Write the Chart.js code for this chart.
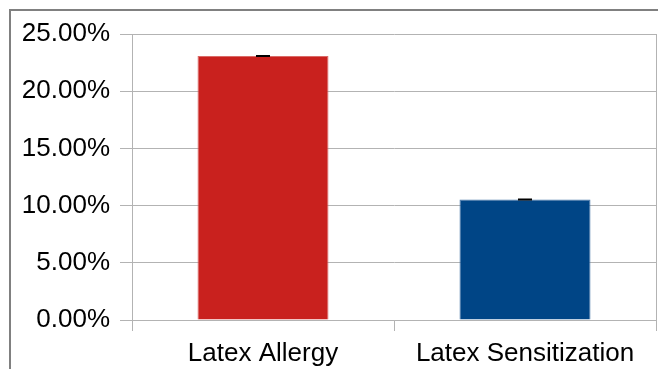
<!DOCTYPE html>
<html>
<head>
<meta charset="utf-8">
<script src="https://cdn.jsdelivr.net/npm/chart.js@4.4.0/dist/chart.umd.min.js"></script>
<style>
  html, body { margin: 0; padding: 0; background: #fff; overflow: hidden; }
  #wrap { position: relative; width: 658px; height: 369px; }
  #frame { position: absolute; left: 9px; top: 9px; width: 720px; height: 420px; border-top: 2px solid #808080; border-left: 2px solid #808080; pointer-events: none; }
  canvas { position: absolute; left: 0; top: 0; }
</style>
</head>
<body>
<div id="wrap">
  <canvas id="c" width="658" height="369"></canvas>
  <div id="frame"></div>
</div>
<script>
const categories = ["Latex Allergy", "Latex Sensitization"];
const values = [23.08, 10.53];
const errors = [0.02, 0.02];
const barColors = ["#C9211E", "#004586"];
const barEdges = ["#DA6A67", "#4A77A8"];
const yTicks = [0, 5, 10, 15, 20, 25];

const errorBarPlugin = {
  id: 'errorBars',
  afterDatasetsDraw(chart) {
    const ctx = chart.ctx;
    const xs = chart.scales.x, ys = chart.scales.y;
    ctx.save();
    ctx.strokeStyle = '#000';
    ctx.lineWidth = 1.5;
    values.forEach((v, i) => {
      const x = xs.getPixelForValue(i);
      const yHi = ys.getPixelForValue(v + errors[i]);
      const yLo = ys.getPixelForValue(v - errors[i]);
      ctx.beginPath();
      ctx.moveTo(x - 7, yHi); ctx.lineTo(x + 7, yHi);
      ctx.moveTo(x, yHi); ctx.lineTo(x, yLo);
      ctx.moveTo(x - 7, yLo); ctx.lineTo(x + 7, yLo);
      ctx.stroke();
    });
    ctx.restore();
  }
};

const rightEdgePlugin = {
  id: 'rightEdge',
  beforeDatasetsDraw(chart) {
    const a = chart.chartArea, ctx = chart.ctx;
    ctx.save();
    ctx.strokeStyle = '#b3b3b3';
    ctx.lineWidth = 1;
    ctx.beginPath();
    ctx.moveTo(a.right + 0.5, a.top);
    ctx.lineTo(a.right + 0.5, a.bottom + 11);
    ctx.stroke();
    ctx.restore();
  }
};

new Chart(document.getElementById('c'), {
  type: 'bar',
  data: {
    labels: categories,
    datasets: [{
      data: values,
      backgroundColor: barColors,
      borderColor: barEdges,
      borderWidth: 1,
      barPercentage: 0.5,
      categoryPercentage: 1.0
    }]
  },
  options: {
    responsive: false,
    animation: false,
    devicePixelRatio: 1,
    layout: { padding: { left: 0, top: 34, right: 2, bottom: 0 } },
    plugins: { legend: { display: false }, tooltip: { enabled: false } },
    scales: {
      x: {
        afterFit(s) { s.height = 49; },
        grid: { display: true, drawOnChartArea: false, drawTicks: true, tickLength: 11, color: '#b3b3b3', offset: true },
        border: { display: true, color: '#b3b3b3' },
        ticks: { color: '#000', padding: 7, font: { family: 'Liberation Sans', size: 26 } }
      },
      y: {
        min: 0, max: 25,
        afterFit(s) { s.width = 132; },
        afterBuildTicks(s) { s.ticks = yTicks.map(v => ({ value: v })); },
        grid: { color: '#b3b3b3', tickLength: 12, drawTicks: true },
        border: { display: true, color: '#b3b3b3' },
        ticks: {
          color: '#000', padding: 10,
          font: { family: 'Liberation Sans', size: 26 },
          callback: v => v.toFixed(2) + '%'
        }
      }
    }
  },
  plugins: [errorBarPlugin, rightEdgePlugin]
});
</script>
</body>
</html>
